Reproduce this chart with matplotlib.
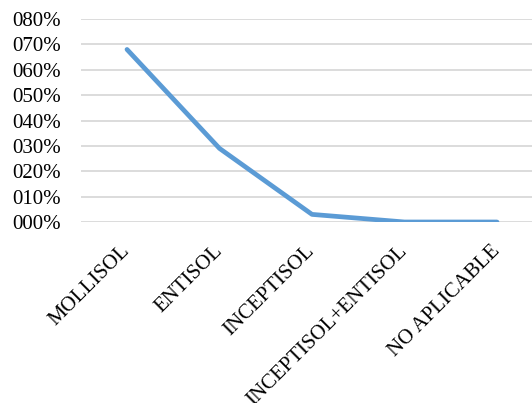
import matplotlib.pyplot as plt
from matplotlib.ticker import FuncFormatter

categories = ["MOLLISOL", "ENTISOL", "INCEPTISOL", "INCEPTISOL+ENTISOL", "NO APLICABLE"]
values = [0.68, 0.29, 0.03, 0.0, 0.0]
y_ticks = [0.0, 0.1, 0.2, 0.3, 0.4, 0.5, 0.6, 0.7, 0.8]

plt.rcParams['font.family'] = ['Liberation Serif', 'DejaVu Serif']

fig = plt.figure(figsize=(5.32, 4.03), dpi=100)
# plot area runs past the right edge, like the cropped original
ax = fig.add_axes([80.75 / 532, 1 - 222 / 403, 462.5 / 532, (222 - 19) / 403])

x = list(range(len(categories)))
ax.plot(x, values, color='#5B9BD5', linewidth=3.4, solid_capstyle='round',
        solid_joinstyle='round', zorder=3)

ax.set_xlim(-0.5, len(categories) - 0.5)
ax.set_ylim(0, 0.8)
ax.set_yticks(y_ticks)
ax.yaxis.set_major_formatter(FuncFormatter(lambda v, p: f"{round(v * 100):03d}%"))
ax.grid(axis='y', color='#D9D9D9', linewidth=1.3)
ax.set_axisbelow(True)

ax.set_xticks(x)
ax.set_xticklabels(categories, rotation=45, ha='right', va='center',
                   rotation_mode='anchor')
ax.tick_params(axis='both', length=0, labelsize=15, colors='black')
ax.tick_params(axis='y', pad=14)
ax.tick_params(axis='x', pad=19)

for s in ax.spines.values():
    s.set_visible(False)

fig.savefig('out.png', dpi=100)
